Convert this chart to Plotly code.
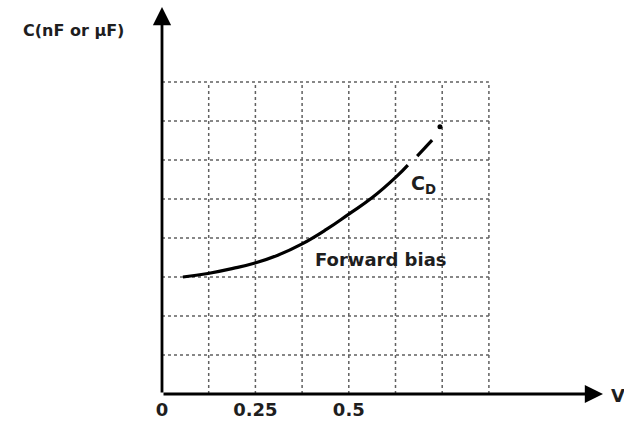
import plotly.graph_objects as go

# ---- data ----
cd_v = [0.056, 0.123, 0.19, 0.249, 0.31, 0.375, 0.44, 0.501, 0.562, 0.626, 0.658]
cd_c = [3.00, 3.09, 3.22, 3.36, 3.56, 3.85, 4.22, 4.62, 5.03, 5.56, 5.87]
dash_v = [0.683, 0.723]
dash_c = [6.10, 6.51]
dot_v = [0.744]
dot_c = [6.85]

grid_v = [0.125, 0.25, 0.375, 0.5, 0.625, 0.75, 0.875]
grid_c = [1, 2, 3, 4, 5, 6, 7, 8]
tick_vals = [0, 0.25, 0.5]
tick_text = ["0", "0.25", "0.5"]

FONT = "DejaVu Sans"
TXT = "#1e1e1e"

X_MAX = 1.1804
Y_MAX = 9.923

fig = go.Figure()

fig.add_trace(go.Scatter(x=cd_v, y=cd_c, mode="lines",
                         line=dict(color="black", width=3.2, shape="spline", smoothing=1.3),
                         hoverinfo="skip", showlegend=False))
fig.add_trace(go.Scatter(x=dash_v, y=dash_c, mode="lines",
                         line=dict(color="black", width=3.2),
                         hoverinfo="skip", showlegend=False))
fig.add_trace(go.Scatter(x=dot_v, y=dot_c, mode="markers",
                         marker=dict(color="black", size=5),
                         hoverinfo="skip", showlegend=False))

shapes = []
gx_max = grid_v[-1]
gy_max = grid_c[-1]
for gv in grid_v:
    shapes.append(dict(type="line", xref="x", yref="y", x0=gv, x1=gv, y0=0, y1=gy_max,
                       line=dict(color="#606060", width=1.5, dash="dot"), layer="below"))
for gc in grid_c:
    shapes.append(dict(type="line", xref="x", yref="y", x0=0, x1=gx_max, y0=gc, y1=gc,
                       line=dict(color="#606060", width=1.5, dash="dot"), layer="below"))

bold = dict(family=FONT, size=18, color=TXT, weight="bold")

annotations = [
    # axis arrows
    dict(x=X_MAX, y=0, ax=0, ay=0, xref="x", yref="y", axref="x", ayref="y",
         text="", showarrow=True, arrowhead=2, arrowsize=1.3, arrowwidth=2.8,
         arrowcolor="black", standoff=0, startstandoff=0),
    dict(x=0, y=Y_MAX, ax=0, ay=0, xref="x", yref="y", axref="x", ayref="y",
         text="", showarrow=True, arrowhead=2, arrowsize=1.3, arrowwidth=2.8,
         arrowcolor="black", standoff=0, startstandoff=0),
    dict(x=-0.2018, y=0.938, xref="paper", yref="paper", text="C(nF or μF)", showarrow=False,
         font=dict(bold, size=16), xanchor="center", yanchor="middle"),
    dict(x=1.034, y=-0.003, xref="paper", yref="paper", text="V", showarrow=False,
         font=bold, xanchor="center", yanchor="middle"),
    dict(x=0.699, y=5.38, xref="x", yref="y", text="C<sub>D</sub>", showarrow=False,
         font=dict(bold, size=19), xanchor="center", yanchor="middle"),
    dict(x=0.586, y=3.46, xref="x", yref="y", text="Forward bias", showarrow=False,
         font=bold, xanchor="center", yanchor="middle"),
]

fig.update_layout(
    width=624, height=422,
    margin=dict(l=162, r=21, t=7, b=28),
    paper_bgcolor="white", plot_bgcolor="white",
    shapes=shapes, annotations=annotations,
    xaxis=dict(range=[0, X_MAX], showgrid=False, zeroline=False, showline=False,
               tickvals=tick_vals, ticktext=tick_text, ticks="", automargin=False,
               tickfont=bold, ticklabelstandoff=3),
    yaxis=dict(range=[0, Y_MAX], showgrid=False, zeroline=False, showline=False,
               showticklabels=False, ticks="", automargin=False),
    showlegend=False,
)

fig.write_html("out.html", config={"displayModeBar": False},
               post_script="document.body.style.margin='0px';")
